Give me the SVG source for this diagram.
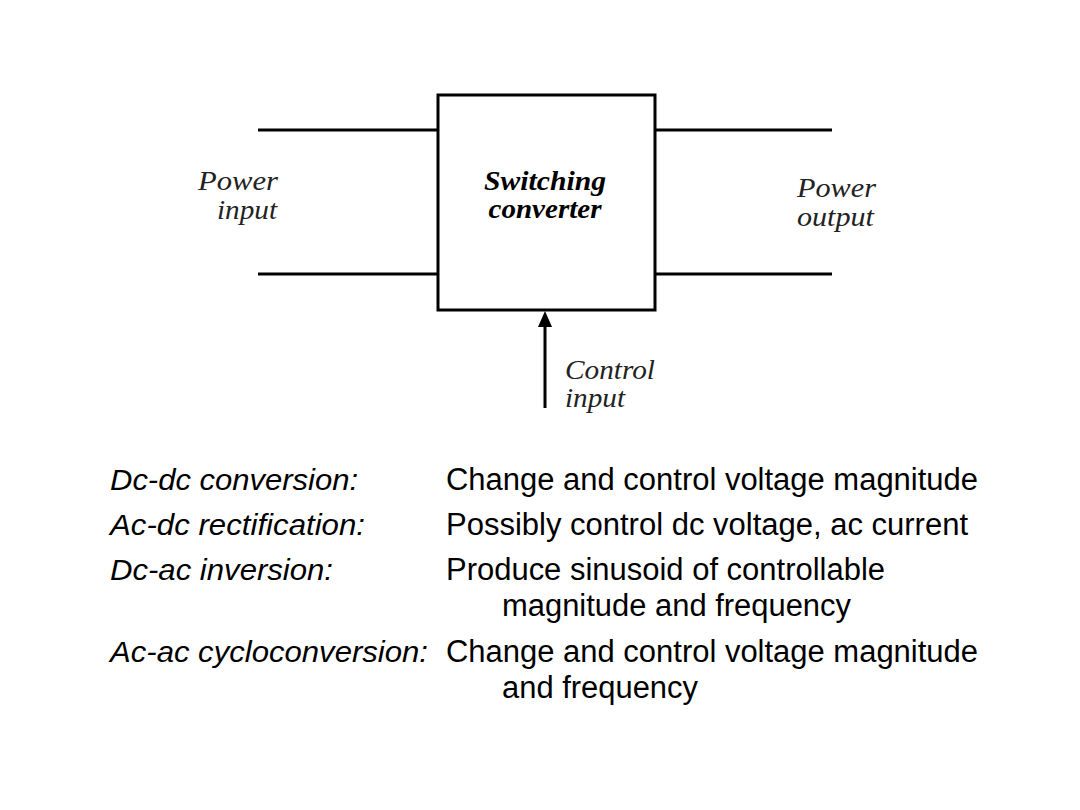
<svg xmlns="http://www.w3.org/2000/svg" width="1080" height="810" viewBox="0 0 1080 810">
<style>
.ln{stroke:#000;stroke-width:3;fill:none}
.lbl{font-family:"Liberation Serif","Times New Roman",serif;font-style:italic;font-size:27px;fill:#222}
.bold{font-weight:bold;fill:#000}
.li{font-family:"Liberation Sans",Arial,sans-serif;font-style:italic;font-size:30px;fill:#000}
.ri{font-family:"Liberation Sans",Arial,sans-serif;font-size:31px;fill:#000}
</style>
<rect width="1080" height="810" fill="#fff"/>
<g id="connectors">
<line class="ln" x1="258" y1="130" x2="438" y2="130"/>
<line class="ln" x1="258" y1="274" x2="438" y2="274"/>
<line class="ln" x1="655" y1="130" x2="832" y2="130"/>
<line class="ln" x1="655" y1="274" x2="832" y2="274"/>
<line class="ln" x1="545" y1="408" x2="545" y2="326"/>
<path d="M545,311 L552,327 L538,327 Z" fill="#000"/>
</g>
<g id="converter">
<rect class="ln" x="438" y="95" width="217" height="215"/>
<text class="lbl bold" x="545" y="190" text-anchor="middle" textLength="122" lengthAdjust="spacingAndGlyphs">Switching</text>
<text class="lbl bold" x="545" y="218" text-anchor="middle" textLength="113" lengthAdjust="spacingAndGlyphs">converter</text>
</g>
<g id="power-input">
<text class="lbl" x="198" y="190" textLength="80" lengthAdjust="spacingAndGlyphs">Power</text>
<text class="lbl" x="217" y="219" textLength="60" lengthAdjust="spacingAndGlyphs">input</text>
</g>
<g id="power-output">
<text class="lbl" x="797" y="197" textLength="79" lengthAdjust="spacingAndGlyphs">Power</text>
<text class="lbl" x="797" y="226" textLength="77" lengthAdjust="spacingAndGlyphs">output</text>
</g>
<g id="control-input">
<text class="lbl" x="565" y="379" textLength="90" lengthAdjust="spacingAndGlyphs">Control</text>
<text class="lbl" x="565" y="407" textLength="60" lengthAdjust="spacingAndGlyphs">input</text>
</g>
<g id="table">
<text class="li" x="110" y="490" textLength="248" lengthAdjust="spacingAndGlyphs">Dc-dc conversion:</text>
<text class="ri" x="446" y="490" textLength="532" lengthAdjust="spacingAndGlyphs">Change and control voltage magnitude</text>
<text class="li" x="110" y="535" textLength="255" lengthAdjust="spacingAndGlyphs">Ac-dc rectification:</text>
<text class="ri" x="446" y="535" textLength="522" lengthAdjust="spacingAndGlyphs">Possibly control dc voltage, ac current</text>
<text class="li" x="110" y="580" textLength="223" lengthAdjust="spacingAndGlyphs">Dc-ac inversion:</text>
<text class="ri" x="446" y="580" textLength="439" lengthAdjust="spacingAndGlyphs">Produce sinusoid of controllable</text>
<text class="ri" x="502" y="616" textLength="349" lengthAdjust="spacingAndGlyphs">magnitude and frequency</text>
<text class="li" x="110" y="662" textLength="318" lengthAdjust="spacingAndGlyphs">Ac-ac cycloconversion:</text>
<text class="ri" x="446" y="662" textLength="532" lengthAdjust="spacingAndGlyphs">Change and control voltage magnitude</text>
<text class="ri" x="502" y="698" textLength="196" lengthAdjust="spacingAndGlyphs">and frequency</text>
</g>
</svg>
